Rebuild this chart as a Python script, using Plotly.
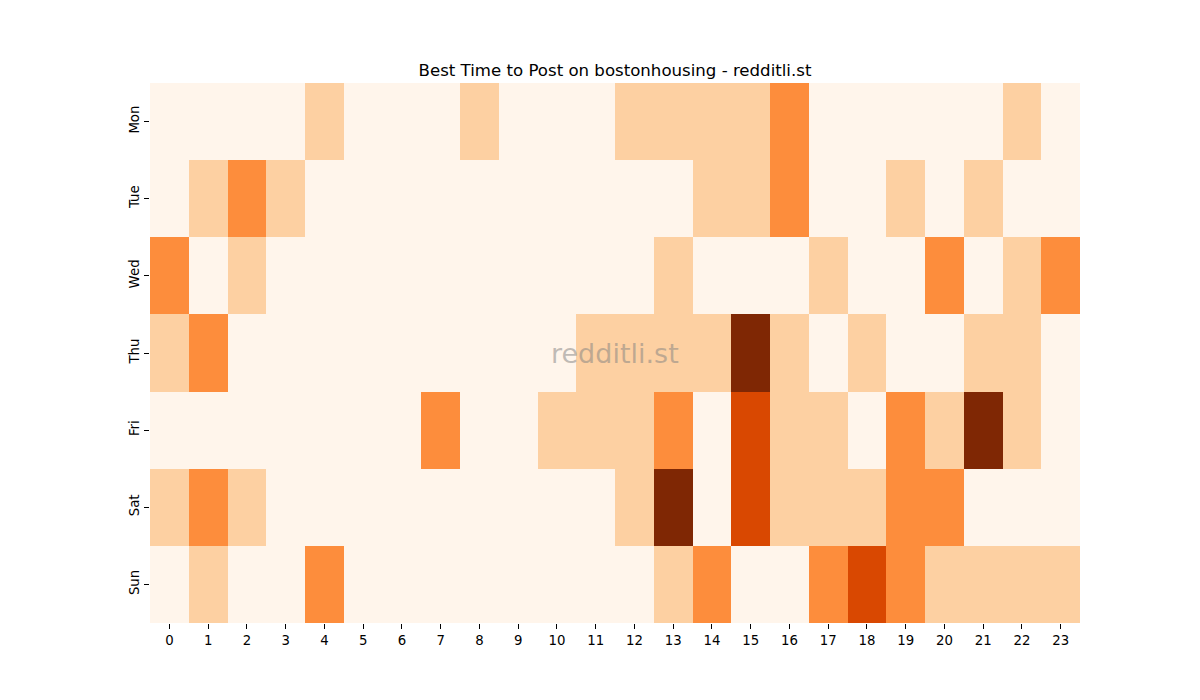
import plotly.graph_objects as go

hours = list(range(24))
days = ["Mon", "Tue", "Wed", "Thu", "Fri", "Sat", "Sun"]

mon = [0,0,0,0,1,0,0,0,1,0,0,0,1,1,1,1,2,0,0,0,0,0,1,0]
tue = [0,1,2,1,0,0,0,0,0,0,0,0,0,0,1,1,2,0,0,1,0,1,0,0]
wed = [2,0,1,0,0,0,0,0,0,0,0,0,0,1,0,0,0,1,0,0,2,0,1,2]
thu = [1,2,0,0,0,0,0,0,0,0,0,1,1,1,1,4,1,0,1,0,0,1,1,0]
fri = [0,0,0,0,0,0,0,2,0,0,1,1,1,2,0,3,1,1,0,2,1,4,1,0]
sat = [1,2,1,0,0,0,0,0,0,0,0,0,1,4,0,3,1,1,1,2,2,0,0,0]
sun = [0,1,0,0,2,0,0,0,0,0,0,0,0,1,2,0,0,2,3,2,1,1,1,1]

z = [mon, tue, wed, thu, fri, sat, sun]

colorscale = [
    [0.0, "#fff5eb"], [0.125, "#fee6ce"], [0.25, "#fdd0a2"], [0.375, "#fdae6b"],
    [0.5, "#fd8d3c"], [0.625, "#f16913"], [0.75, "#d94801"], [0.875, "#a63603"],
    [1.0, "#7f2704"],
]

fig = go.Figure(go.Heatmap(
    z=z, x=hours, y=days, colorscale=colorscale, zmin=0, zmax=4,
    showscale=False, xgap=0, ygap=0, hoverongaps=False,
))

font = dict(family="DejaVu Sans", size=13.3, color="black")
fig.update_layout(
    width=1200, height=700,
    margin=dict(l=150, r=120, t=83, b=77),
    paper_bgcolor="white", plot_bgcolor="white",
    font=font,
    title=dict(text="Best Time to Post on bostonhousing - redditli.st",
               xref="paper", x=0.5, xanchor="center",
               yref="container", y=1 - 70/700, yanchor="middle",
               font=dict(family="DejaVu Sans", size=16.6, color="black")),
    xaxis=dict(tickmode="array", tickvals=hours, ticktext=[str(h) for h in hours],
               ticks="outside", ticklen=5, tickcolor="black", showgrid=False,
               zeroline=False, showline=False, range=[-0.5, 23.5]),
    yaxis=dict(autorange="reversed", ticks="outside", ticklen=5, tickcolor="black",
               tickangle=-90, showgrid=False, zeroline=False, showline=False),
    annotations=[dict(text="redditli.st", x=0.5, y=0.5, xref="paper", yref="paper",
                      showarrow=False,
                      font=dict(family="DejaVu Sans", size=27, color="rgba(128,128,128,0.5)"))],
)

fig.write_html("out.html")
